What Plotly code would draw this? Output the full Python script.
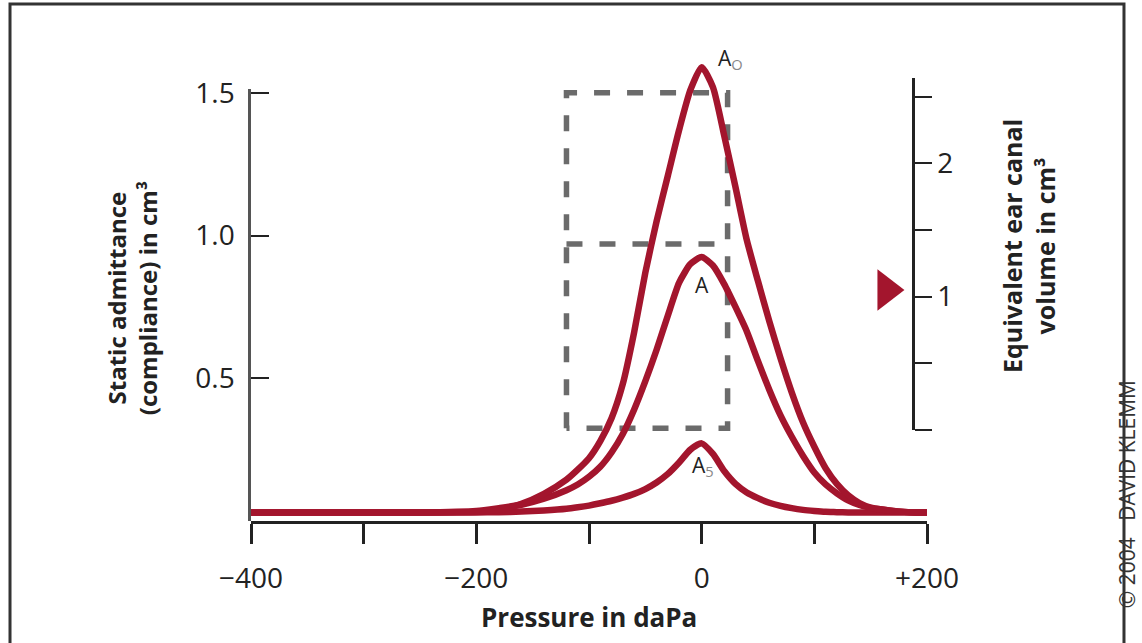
import plotly.graph_objects as go

# ---- data ----
pressure = [-400, -300, -250, -200, -180, -160, -140, -120, -110, -100, -90, -80, -70, -60, -50,
            -40, -30, -20, -10, 0, 10, 20, 30, 40, 50, 60, 70, 80, 90, 100, 110, 120, 130,
            140, 150, 160, 170, 180, 190, 200]
curve_A0 = [0.03, 0.03, 0.03, 0.032, 0.04, 0.06, 0.095, 0.145, 0.18, 0.22, 0.28, 0.36, 0.48, 0.66, 0.87,
            1.05, 1.21, 1.37, 1.51, 1.59, 1.52, 1.35, 1.17, 0.985, 0.84, 0.70, 0.57, 0.45, 0.345, 0.26,
            0.185, 0.13, 0.09, 0.063, 0.047, 0.04, 0.035, 0.032, 0.03, 0.03]
curve_A = [0.03, 0.03, 0.03, 0.035, 0.045, 0.057, 0.078, 0.108, 0.128, 0.155, 0.19, 0.24, 0.305, 0.39, 0.49,
           0.6, 0.72, 0.835, 0.9, 0.925, 0.895, 0.83, 0.75, 0.665, 0.56, 0.46, 0.37, 0.295, 0.228, 0.17,
           0.128, 0.097, 0.072, 0.056, 0.046, 0.04, 0.035, 0.032, 0.03, 0.03]
curve_As = [0.03, 0.03, 0.03, 0.03, 0.031, 0.033, 0.037, 0.043, 0.048, 0.054, 0.062, 0.071, 0.082, 0.095, 0.112,
            0.135, 0.165, 0.205, 0.25, 0.272, 0.235, 0.175, 0.13, 0.1, 0.08, 0.064, 0.053, 0.045, 0.039, 0.035,
            0.032, 0.031, 0.03, 0.03, 0.03, 0.03, 0.03, 0.03, 0.03, 0.03]

box_x = [-120, 23]               # dashed box left / right pressure
box_levels = [0.325, 0.97, 1.5]  # bottom, middle, top admittance

x_tickvals = [-400, -300, -200, -100, 0, 100, 200]
x_ticktext = ["\u2212400", "", "\u2212200", "", "0", "", "+200"]
y_tickvals = [0.5, 1.0, 1.5]
y_ticktext = ["0.5", "1.0", "1.5"]
vol_tickvals = [0, 0.5, 1, 1.5, 2, 2.5]
vol_ticktext = ["", "", "1", "", "2", ""]
ear_canal_volume = 1.05
marker_pressure = 164

RED = "#a3152d"
GRAY = "#6b6b6b"
FONT = "Open Sans"

fig = go.Figure()

# dashed box
bx0, bx1 = box_x
b0, bm, bt = box_levels
dash_line = dict(color=GRAY, width=5.5, dash="16px,17px")
fig.add_trace(go.Scatter(x=[bx0, bx0, bx1, bx1, bx0], y=[b0, bt, bt, b0, b0], mode="lines",
                         line=dash_line, hoverinfo="skip", showlegend=False))
fig.add_trace(go.Scatter(x=[bx0, bx1], y=[bm, bm], mode="lines",
                         line=dash_line, hoverinfo="skip", showlegend=False))

for ys in (curve_As, curve_A, curve_A0):
    fig.add_trace(go.Scatter(x=pressure, y=ys, mode="lines",
                             line=dict(color=RED, width=6.5, shape="spline", smoothing=0.6),
                             hoverinfo="skip", showlegend=False))

# visible left axis (invisible anchor trace)
fig.add_trace(go.Scatter(x=[-400], y=[0], yaxis="y3", mode="markers", marker=dict(opacity=0),
                         hoverinfo="skip", showlegend=False))
# ear canal volume marker
fig.add_trace(go.Scatter(x=[marker_pressure], y=[ear_canal_volume], yaxis="y2", mode="markers",
                         marker=dict(symbol="triangle-right", size=36, color=RED),
                         hoverinfo="skip", showlegend=False))

tickfont = dict(family=FONT, size=28, color="#222")
Y_MAX = 1.65
fig.update_layout(
    width=1142, height=643,
    margin=dict(l=251, r=215, t=50, b=122),
    paper_bgcolor="white", plot_bgcolor="rgba(0,0,0,0)",
    xaxis=dict(range=[-400, 200], showgrid=False, zeroline=False, showline=True, linecolor="#222",
               linewidth=2.5, ticks="outside", ticklen=20, tickwidth=2.5, tickcolor="#222",
               tickvals=x_tickvals, ticktext=x_ticktext, tickfont=tickfont, anchor="y",
               ticklabelstandoff=11, automargin=False),
    yaxis=dict(range=[0, Y_MAX], visible=False, showgrid=False, zeroline=False, automargin=False),
    yaxis3=dict(range=[0, 1.515], domain=[0, 1.515 / Y_MAX], anchor="x", showgrid=False, zeroline=False,
                showline=True, linecolor="#555", linewidth=2.5, ticks="inside", ticklen=18, tickwidth=2,
                tickcolor="#222", tickvals=y_tickvals, ticktext=y_ticktext, tickfont=tickfont,
                ticklabelstandoff=8, automargin=False),
    yaxis2=dict(range=[0, 2.64], domain=[0.1932, 0.9406], anchor="free", position=0.979, side="right",
                showgrid=False, zeroline=False, showline=True, linecolor="#222", linewidth=2.5,
                ticks="outside", ticklen=17, tickwidth=2, tickcolor="#222",
                tickvals=vol_tickvals, ticktext=vol_ticktext, tickfont=tickfont, automargin=False),
    showlegend=False,
)

sub = "<sub><span style='color:#888'>%s</span></sub>"
fig.add_annotation(x=-0.176, y=0.473, xref="paper", yref="paper", xanchor="center", yanchor="middle",
                   textangle=-90, showarrow=False,
                   text="<b>Static admittance<br>(compliance) in cm\u00b3</b>",
                   font=dict(family=FONT, size=24, color="#222"))
fig.add_annotation(x=1.151, y=0.584, xref="paper", yref="paper", xanchor="center", yanchor="middle",
                   textangle=-90, showarrow=False,
                   text="<b>Equivalent ear canal<br>volume in cm\u00b3</b>",
                   font=dict(family=FONT, size=25, color="#222"))
fig.add_annotation(x=0.50, y=-0.204, xref="paper", yref="paper", xanchor="center", yanchor="middle",
                   showarrow=False, text="<b>Pressure in daPa</b>",
                   font=dict(family=FONT, size=26, color="#222"))
lab_font = dict(family=FONT, size=21, color="#222")
fig.add_annotation(x=26, y=1.62, text="A" + sub % "O", showarrow=False, font=lab_font)
fig.add_annotation(x=0, y=0.827, text="A", showarrow=False, font=lab_font)
fig.add_annotation(x=1, y=0.193, text="A" + sub % "5", showarrow=False, font=lab_font)
fig.add_annotation(x=1.2959, y=0.057, xref="paper", yref="paper", xanchor="center", yanchor="middle",
                   textangle=-90, showarrow=False,
                   text="\u00a9 2004   DAVID KLEMM", font=dict(family=FONT, size=21, color="#333"))

fig.add_shape(type="rect", xref="paper", yref="paper", x0=-0.3565, x1=1.2914, y0=-0.3, y1=1.0977,
              line=dict(color="#333", width=3), fillcolor="rgba(0,0,0,0)", layer="below")

fig.write_html("out.html", config={"displayModeBar": False},
               post_script="document.body.style.margin='0';")
